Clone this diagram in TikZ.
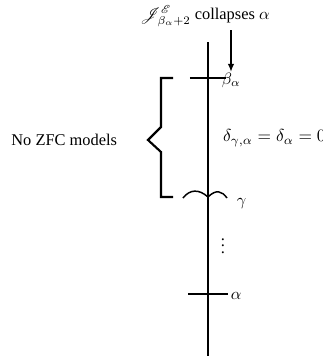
\documentclass[tikz,border=0pt]{standalone}
\usepackage{mathrsfs}
\usepackage{fontspec}
\setmainfont{Liberation Serif}
\usetikzlibrary{arrows.meta,positioning}
\tikzset{
  ordline/.style={line width=1.8pt},
  ordtick/.style={line width=1.8pt},
  ordbrace/.style={line width=1.3pt},
  ordarc/.style={line width=0.9pt},
  ordarrow/.style={-{Latex[length=5pt,width=4pt]}, line width=1.2pt},
  ordlabel/.style={anchor=west, inner sep=1pt, font=\normalsize}
}

\begin{document}
\begin{tikzpicture}[x=0.61pt, y=-0.61pt]
\useasboundingbox (0,0) rectangle (323,356);
\clip (0,0) rectangle (323,356);
% main line
\coordinate (top) at (208,42);
\coordinate (bot) at (208,356);
\coordinate (beta) at (208,78);
\coordinate (gamma) at (208,197);
\coordinate (alpha) at (208,294);
\draw[ordline] (top) -- (bot);
\draw[ordtick] ([xshift=-11]beta) -- ([xshift=11]beta);
\draw[ordtick] ([xshift=-12]alpha) -- ([xshift=12]alpha);
% labels on the line
\node[ordlabel] (betalab) at (220,80) {$\beta_\alpha$};
\node[ordlabel, scale=1.06] (deltalab) at (221,138) {$\delta_{\gamma,\alpha}=\delta_\alpha=0$};
\node[ordlabel] (gammalab) at (235,204) {$\gamma$};
\node[inner sep=0pt] (dots) at (223,241) {$\vdots$};
\node[ordlabel] (alphalab) at (229,296) {$\alpha$};
% collapse note
\node[inner sep=1pt] (collapse) at (205,16) {$\mathscr{J}^{\mathscr{E}}_{\beta_\alpha+2}$ collapses $\alpha$};
\coordinate (arrtop) at (231,30);
\coordinate (arrend) at (231,72);
\draw[ordarrow] (arrtop) -- (arrend);
% gamma arcs
\draw[ordarc] (183,198) .. controls (190,189) and (199,189) .. (gamma)
  .. controls (216,189) and (222,191) .. (227,198);
% brace
\draw[ordbrace] (173,78) -- (161,78) -- (161,127) -- (148,140) -- (161,152) -- (161,197) -- (173,197);
\node[anchor=east, inner sep=1pt] (nozfc) at (119,140) {No ZFC models};
\end{tikzpicture}
\end{document}
